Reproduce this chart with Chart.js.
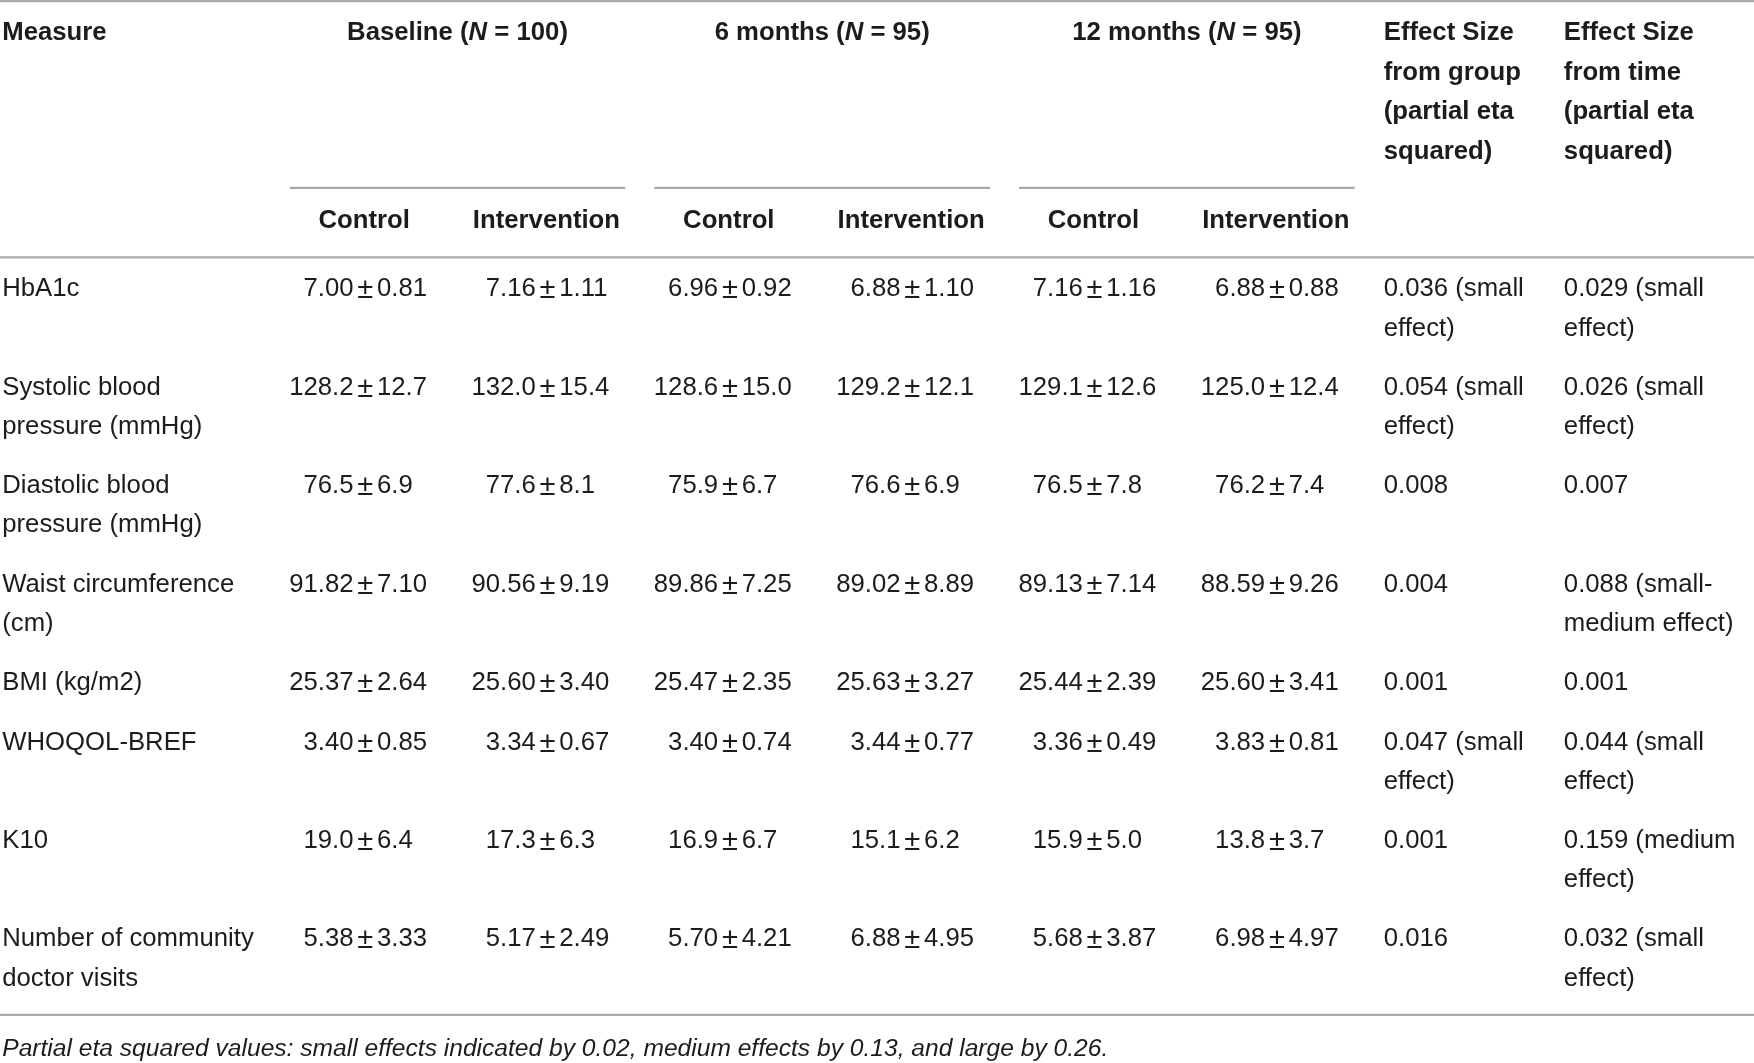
<!DOCTYPE html>
<html>
<head>
<meta charset="utf-8">
<title>Outcome measures by group and time</title>
<script src="https://cdn.jsdelivr.net/npm/chart.js@4.4.1/dist/chart.umd.min.js"></script>
<style>
  html, body { margin: 0; padding: 0; background: #fff; }
  #wrap { width: 1754px; height: 1063px; }
</style>
</head>
<body>
<div id="wrap"><canvas id="tableChart" width="1754" height="1063"></canvas></div>
<script>
// ---- table data ----
const measures = [
  ['HbA1c'],
  ['Systolic blood', 'pressure (mmHg)'],
  ['Diastolic blood', 'pressure (mmHg)'],
  ['Waist circumference', '(cm)'],
  ['BMI (kg/m2)'],
  ['WHOQOL-BREF'],
  ['K10'],
  ['Number of community', 'doctor visits']
];
const decimals = [2, 1, 1, 2, 2, 2, 1, 2];

const timepoints = ['Baseline', '6 months', '12 months'];
const sampleSizes = [100, 95, 95];
const groups = ['Control', 'Intervention'];

const baselineControlMean = [7.00, 128.2, 76.5, 91.82, 25.37, 3.40, 19.0, 5.38];
const baselineControlSd = [0.81, 12.7, 6.9, 7.10, 2.64, 0.85, 6.4, 3.33];
const baselineInterventionMean = [7.16, 132.0, 77.6, 90.56, 25.60, 3.34, 17.3, 5.17];
const baselineInterventionSd = [1.11, 15.4, 8.1, 9.19, 3.40, 0.67, 6.3, 2.49];
const month6ControlMean = [6.96, 128.6, 75.9, 89.86, 25.47, 3.40, 16.9, 5.70];
const month6ControlSd = [0.92, 15.0, 6.7, 7.25, 2.35, 0.74, 6.7, 4.21];
const month6InterventionMean = [6.88, 129.2, 76.6, 89.02, 25.63, 3.44, 15.1, 6.88];
const month6InterventionSd = [1.10, 12.1, 6.9, 8.89, 3.27, 0.77, 6.2, 4.95];
const month12ControlMean = [7.16, 129.1, 76.5, 89.13, 25.44, 3.36, 15.9, 5.68];
const month12ControlSd = [1.16, 12.6, 7.8, 7.14, 2.39, 0.49, 5.0, 3.87];
const month12InterventionMean = [6.88, 125.0, 76.2, 88.59, 25.60, 3.83, 13.8, 6.98];
const month12InterventionSd = [0.88, 12.4, 7.4, 9.26, 3.41, 0.81, 3.7, 4.97];

const effectGroup = [0.036, 0.054, 0.008, 0.004, 0.001, 0.047, 0.001, 0.016];
const effectGroupLabel = ['small effect', 'small effect', '', '', '', 'small effect', '', ''];
const effectTime = [0.029, 0.026, 0.007, 0.088, 0.001, 0.044, 0.159, 0.032];
const effectTimeLabel = ['small effect', 'small effect', '', 'small-medium effect', '', 'small effect', 'medium effect', 'small effect'];

const effectHeaders = [
  ['Effect Size', 'from group', '(partial eta', 'squared)'],
  ['Effect Size', 'from time', '(partial eta', 'squared)']
];
const footnote = 'Partial eta squared values: small effects indicated by 0.02, medium effects by 0.13, and large by 0.26.';

// ---- layout (design units, scaled to the canvas by the chart scales) ----
const W = 1568, H = 950;
const colWidths = [246, 163, 163, 163, 163, 163, 163, 161, 183];
const PAD = 13;
const LINE = 35;
const HEAD_Y = 29.5, GROUP_RULE_Y = 168, SUB_Y = 197.5, HEAD_RULE_Y = 230;
const BODY_SIZE = 23, HEAD_SIZE = 23, NOTE_SIZE = 22, PM_SIZE = 26;
const FAMILY = '"Liberation Sans", Arial, Helvetica, sans-serif';
const RULE_COLOR = '#a9a9a9';
const TEXT_COLOR = '#1c1c1c';

const colLeft = [];
colWidths.reduce((acc, w) => { colLeft.push(acc); return acc + w; }, 0);

function font(size, weight, style) {
  return (style || 'normal') + ' ' + (weight || 'normal') + ' ' + size + 'px ' + FAMILY;
}

// word wrap that may break after spaces and hyphens
const measureCtx = document.createElement('canvas').getContext('2d');
function wrapText(text, maxWidth, f) {
  measureCtx.font = f;
  const tokens = text.split(/(?<=[\s-])/);
  const lines = [];
  let line = '';
  tokens.forEach(tok => {
    const test = (line + tok).trimEnd();
    if (line && measureCtx.measureText(test).width > maxWidth) {
      lines.push(line.trimEnd());
      line = tok;
    } else {
      line += tok;
    }
  });
  if (line) lines.push(line.trimEnd());
  return lines;
}

const valueColumns = [
  [baselineControlMean, baselineControlSd],
  [baselineInterventionMean, baselineInterventionSd],
  [month6ControlMean, month6ControlSd],
  [month6InterventionMean, month6InterventionSd],
  [month12ControlMean, month12ControlSd],
  [month12InterventionMean, month12InterventionSd]
];

const effectColumns = [[effectGroup, effectGroupLabel], [effectTime, effectTimeLabel]];
const effectLines = effectColumns.map(([vals, labels], k) => {
  const maxW = colWidths[7 + k] - 2 * PAD;
  return vals.map((v, i) => {
    const txt = v.toFixed(3) + (labels[i] ? ' (' + labels[i] + ')' : '');
    return wrapText(txt, maxW, font(BODY_SIZE));
  });
});

// row tops from number of text lines
const rowLines = measures.map((m, i) =>
  Math.max(m.length, effectLines[0][i].length, effectLines[1][i].length));
const rowTop = [];
rowLines.reduce((acc, n) => { rowTop.push(acc); return acc + n * LINE + 18; }, HEAD_RULE_Y);
const tableBottom = rowTop[rowTop.length - 1] + rowLines[rowLines.length - 1] * LINE + 18 + 8;
const rowY = i => rowTop[i] + 28.5;

// ---- datasets: one invisible point per table cell ----
const datasets = [];

// header cells
const headerCells = [];
const headerPts = [];
headerPts.push({ x: 2, y: HEAD_Y });
headerCells.push({ kind: 'left', lines: ['Measure'], bold: true });
timepoints.forEach((t, g) => {
  const gx = colLeft[1 + 2 * g] + colWidths[1 + 2 * g];
  headerPts.push({ x: gx, y: HEAD_Y });
  headerCells.push({ kind: 'group', parts: [t + ' (', 'N', ' = ' + sampleSizes[g] + ')'] });
  groups.forEach((name, k) => {
    const c = 1 + 2 * g + k;
    headerPts.push({ x: colLeft[c] + colWidths[c] / 2 - 2, y: SUB_Y });
    headerCells.push({ kind: 'center', lines: [name], bold: true });
  });
});
effectHeaders.forEach((lines, k) => {
  headerPts.push({ x: colLeft[7 + k] + PAD, y: HEAD_Y });
  headerCells.push({ kind: 'left', lines: lines, bold: true, step: 35.4 });
});
headerPts.push({ x: 2, y: tableBottom + 31 });
headerCells.push({ kind: 'left', lines: [footnote], italic: true, size: NOTE_SIZE });
datasets.push({ label: 'header', data: headerPts, cells: headerCells });

// measure names
datasets.push({
  label: 'Measure',
  data: measures.map((m, i) => ({ x: 2, y: rowY(i) })),
  cells: measures.map(m => ({ kind: 'left', lines: m }))
});

// mean ± sd columns, aligned on the ± sign
valueColumns.forEach(([mean, sd], k) => {
  const c = 1 + k;
  datasets.push({
    label: timepoints[Math.floor(k / 2)] + ' ' + groups[k % 2],
    data: mean.map((v, i) => ({ x: colLeft[c] + colWidths[c] / 2 - 1, y: rowY(i) })),
    cells: mean.map((v, i) => ({ kind: 'pm', left: v.toFixed(decimals[i]), right: sd[i].toFixed(decimals[i]) }))
  });
});

// effect size columns
effectColumns.forEach((col, k) => {
  datasets.push({
    label: k === 0 ? 'Effect size group' : 'Effect size time',
    data: effectLines[k].map((l, i) => ({ x: colLeft[7 + k] + PAD, y: rowY(i) })),
    cells: effectLines[k].map(l => ({ kind: 'left', lines: l }))
  });
});

// ---- plugins ----
const tableRules = {
  id: 'tableRules',
  beforeDatasetsDraw(chart) {
    const { ctx, scales: { x, y } } = chart;
    const s = chart.chartArea.width / W;
    ctx.save();
    ctx.strokeStyle = RULE_COLOR;
    ctx.lineWidth = 2 * s;
    const hline = (x0, x1, yy) => {
      ctx.beginPath();
      ctx.moveTo(x.getPixelForValue(x0), y.getPixelForValue(yy));
      ctx.lineTo(x.getPixelForValue(x1), y.getPixelForValue(yy));
      ctx.stroke();
    };
    hline(0, W, 1);
    timepoints.forEach((t, g) => {
      const c = 1 + 2 * g;
      hline(colLeft[c] + PAD, colLeft[c] + colWidths[c] * 2 - PAD, GROUP_RULE_Y);
    });
    hline(0, W, HEAD_RULE_Y);
    hline(0, W, tableBottom);
    ctx.restore();
  }
};

const tableText = {
  id: 'tableText',
  afterDatasetsDraw(chart) {
    const { ctx } = chart;
    const s = chart.chartArea.width / W;
    const sy = chart.chartArea.height / H;
    ctx.save();
    ctx.fillStyle = TEXT_COLOR;
    ctx.textBaseline = 'middle';
    chart.data.datasets.forEach((ds, di) => {
      const meta = chart.getDatasetMeta(di);
      meta.data.forEach((pt, i) => {
        const cell = ds.cells[i];
        const px = pt.x, py = pt.y;
        if (cell.kind === 'pm') {
          const gap = 10.5 * s;
          ctx.font = font(BODY_SIZE * s);
          ctx.textAlign = 'right';
          ctx.fillText(cell.left, px - gap, py);
          ctx.textAlign = 'left';
          ctx.fillText(cell.right, px + gap, py);
          ctx.font = font(PM_SIZE * s);
          ctx.textAlign = 'center';
          ctx.fillText('\u00b1', px, py + 1 * s);
        } else if (cell.kind === 'group') {
          const fonts = [font(HEAD_SIZE * s, 'bold'), font(HEAD_SIZE * s, 'bold', 'italic'), font(HEAD_SIZE * s, 'bold')];
          const widths = cell.parts.map((p, k) => { ctx.font = fonts[k]; return ctx.measureText(p).width; });
          let cx = px - widths.reduce((a, b) => a + b, 0) / 2;
          ctx.textAlign = 'left';
          cell.parts.forEach((p, k) => { ctx.font = fonts[k]; ctx.fillText(p, cx, py); cx += widths[k]; });
        } else {
          const size = (cell.size || (cell.bold ? HEAD_SIZE : BODY_SIZE)) * s;
          ctx.font = font(size, cell.bold ? 'bold' : 'normal', cell.italic ? 'italic' : 'normal');
          ctx.textAlign = cell.kind === 'center' ? 'center' : 'left';
          const step = (cell.step || LINE) * sy;
          cell.lines.forEach((line, k) => ctx.fillText(line, px, py + k * step));
        }
      });
    });
    ctx.restore();
  }
};

new Chart(document.getElementById('tableChart'), {
  type: 'scatter',
  data: { datasets: datasets },
  options: {
    responsive: false,
    animation: false,
    layout: { padding: 0 },
    scales: {
      x: { type: 'linear', min: 0, max: W, display: false },
      y: { type: 'linear', min: 0, max: H, reverse: true, display: false }
    },
    elements: { point: { radius: 0, hoverRadius: 0, hitRadius: 0 } },
    plugins: {
      legend: { display: false },
      tooltip: { enabled: false }
    }
  },
  plugins: [tableRules, tableText]
});
</script>
</body>
</html>
